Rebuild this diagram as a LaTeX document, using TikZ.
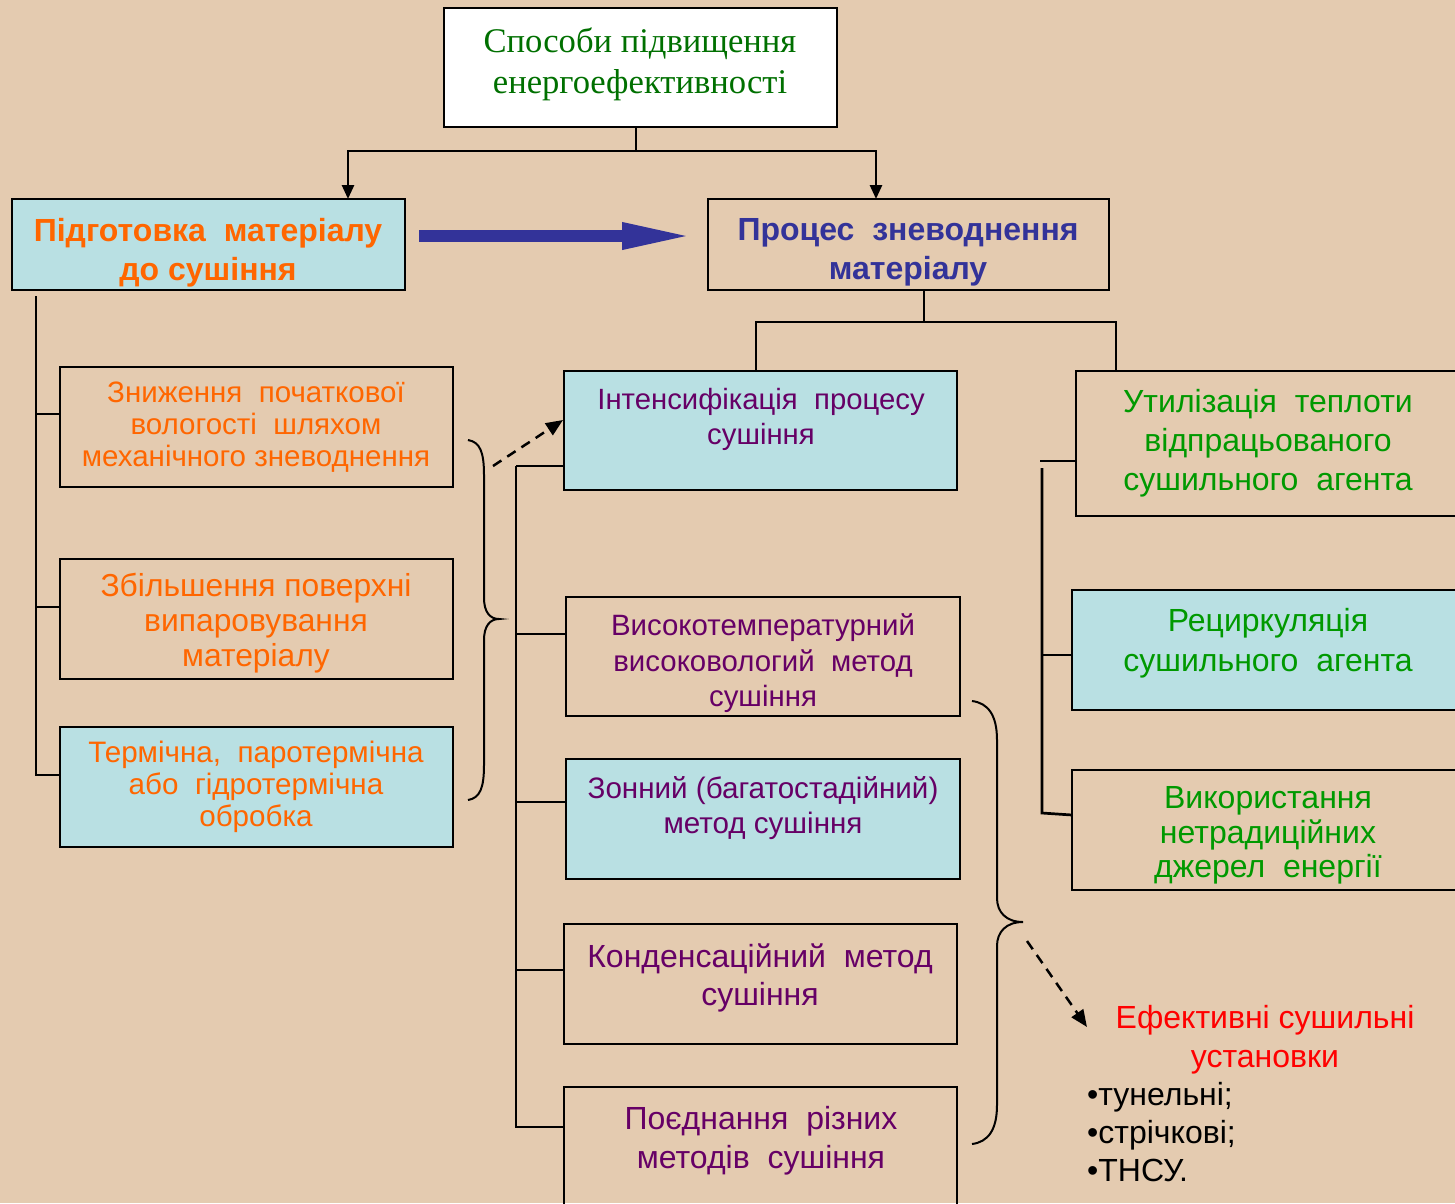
\documentclass[tikz,border=0pt]{standalone}
\usepackage{fontspec}
\setmainfont{Liberation Sans}
\newfontfamily\serifcyr{Liberation Serif}
\usetikzlibrary{arrows.meta,calc}
\definecolor{bg}{RGB}{228,203,176}
\definecolor{lblue}{RGB}{185,224,227}
\definecolor{orng}{RGB}{255,102,0}
\definecolor{purp}{RGB}{102,0,102}
\definecolor{grn}{RGB}{0,153,0}
\definecolor{dgrn}{RGB}{0,112,0}
\definecolor{navy}{RGB}{51,51,153}
\newcommand\fsz[2]{\fontsize{#1}{#2}\selectfont}
\begin{document}
\begin{tikzpicture}[x=1pt,y=-1pt,
  box/.style={draw=black, line width=2.5pt, inner sep=0pt, outer sep=0pt},
  conn/.style={draw=black, line width=2.7pt},
  txt/.style={align=center, inner sep=0pt},
  brace/.style={draw=black, line width=2pt},
  darr/.style={draw=black, line width=2.5pt, dash pattern=on 10pt off 7pt, -{Triangle[length=17pt,width=14pt]}},
  tarr/.style={-{Triangle[length=14pt,width=12pt]}}]
\useasboundingbox (0,0) rectangle (1455,1203);
\clip (0,0) rectangle (1455,1203);
\fill[bg] (0,0) rectangle (1455,1203);

% boxes
\node[box, fill=white, minimum width=393, minimum height=119] (top) at (640.5,67.5) {};
\node[box, fill=lblue, minimum width=393, minimum height=91] (prep) at (208.5,244.5) {};
\node[box, minimum width=401, minimum height=91] (proc) at (908.5,244.5) {};
\node[box, minimum width=393, minimum height=120] (b1) at (256.5,427) {};
\node[box, minimum width=393, minimum height=120] (b2) at (256.5,619) {};
\node[box, fill=lblue, minimum width=393, minimum height=120] (b3) at (256.5,787) {};
\node[box, fill=lblue, minimum width=393, minimum height=119] (m1) at (760.5,430.5) {};
\node[box, minimum width=394, minimum height=119] (m2) at (763,656.5) {};
\node[box, fill=lblue, minimum width=394, minimum height=120] (m3) at (763,819) {};
\node[box, minimum width=393, minimum height=120] (m4) at (760.5,984) {};
\node[box, minimum width=393, minimum height=128] (m5) at (760.5,1151) {};
\node[box, minimum width=394, minimum height=145] (r1) at (1273,443.5) {};
\node[box, fill=lblue, minimum width=398, minimum height=120] (r2) at (1271,650) {};
\node[box, minimum width=398, minimum height=120] (r3) at (1271,830) {};

% texts
\node[txt, text=dgrn, font=\serifcyr\fsz{34.6}{41}] (ttop) at (640,64) {Способи підвищення\\енергоефективності};
\node[txt, text=orng, font=\bfseries\fsz{32}{39}] (tprep) at (208,252.5) {Підготовка~ матеріалу\\до сушіння};
\node[txt, text=navy, font=\bfseries\fsz{32}{39}] (tproc) at (908,252.5) {Процес~ зневоднення\\матеріалу};
\node[txt, text=orng, font=\fsz{29.5}{32}] (tb1) at (256,427) {Зниження~ початкової\\вологості~ шляхом\\механічного зневоднення};
\node[txt, text=orng, font=\fsz{31.8}{35}] (tb2) at (256,623.5) {Збільшення поверхні\\випаровування\\матеріалу};
\node[txt, text=orng, font=\fsz{29.6}{32}] (tb3) at (256,787) {Термічна,~ паротермічна\\або~ гідротермічна\\обробка};
\node[txt, text=purp, font=\fsz{29.3}{35}] (tm1) at (761,419.5) {Інтенсифікація~ процесу\\сушіння};
\node[txt, text=purp, font=\fsz{29.4}{35.5}] (tm2) at (763,663.5) {Високотемпературний\\високовологий~ метод\\сушіння};
\node[txt, text=purp, font=\fsz{29.6}{35}] (tm3) at (763,808.5) {Зонний (багатостадійний)\\метод сушіння};
\node[txt, text=purp, font=\fsz{32}{38}] (tm4) at (760,978) {Конденсаційний~ метод\\сушіння};
\node[txt, text=purp, font=\fsz{32}{39}] (tm5) at (761,1140.5) {Поєднання~ різних\\методів~ сушіння};
\node[txt, text=grn, font=\fsz{32}{39}] (tr1) at (1268,443) {Утилізація~ теплоти\\відпрацьованого\\сушильного~ агента};
\node[txt, text=grn, font=\fsz{32}{40}] (tr2) at (1268,643) {Рециркуляція\\сушильного~ агента};
\node[txt, text=grn, font=\fsz{32}{34.5}] (tr3) at (1268,835.5) {Використання\\нетрадиційних\\джерел~ енергії};
\node[txt, text=red, font=\fsz{32}{39}] (tred) at (1265,1039.5) {Ефективні сушильні\\установки};
\node[txt, align=left, anchor=west, text=black, font=\fsz{32}{38}] (tlist) at (1087,1132) {•тунельні;\\•стрічкові;\\•ТНСУ.};

% top connectors
\coordinate (j1) at (636,151);
\draw[conn] (top.south -| j1) -- (j1);
\draw[conn, tarr] (j1) -| ([xshift=139.5pt]prep.north);
\draw[conn, tarr] (j1) -| ([xshift=-32.5pt]proc.north);

% big blue arrow
\draw[navy, line width=12pt, -{Triangle[length=73pt,width=24pt]}] ([shift={(14,-8.5)}]prep.east) -- ([shift={(-13,-8.5)}]proc.west);

% process -> two branches
\coordinate (j2) at (924,322);
\draw[conn] (proc.south -| j2) -- (j2);
\draw[conn] (m1.north -| 756,0) |- (j2) -| (r1.north -| 1116,0);

% left column
\coordinate (lt) at (36,296);
\draw[conn] (lt) |- ([yshift=12pt]b3.west);
\draw[conn] (lt |- b1.west) ++(0,-13) -- ([yshift=13pt]b1.west);
\draw[conn] (lt |- b2.west) ++(0,-12) -- ([yshift=12pt]b2.west);

% middle column
\coordinate (mt) at (516,466);
\draw[conn] (mt) -- (m1.west |- mt);
\draw[conn] (mt) -- (516,1127) -- (m5.west |- 0,1127);
\draw[conn] (516,634) -- (m2.west |- 0,634);
\draw[conn] (516,802) -- (m3.west |- 0,802);
\draw[conn] (516,970) -- (m4.west |- 0,970);

% right column
\draw[conn] (1040,461) -- (r1.west |- 0,461);
\draw[conn] (1042,468) -- (1042,813) -- (r3.west |- 0,815);
\draw[conn] (1042,655) -- (r2.west |- 0,655);

% brace 1
\draw[brace] (468,440) .. controls (480,442) and (484,452) .. (484,475) -- (484,598)
  .. controls (484,612) and (490,619) .. (499,619)
  .. controls (490,619) and (484,626) .. (484,640) -- (484,765)
  .. controls (484,788) and (480,798) .. (468,800);
\coordinate (d1s) at (493,466);
\draw[darr] (d1s) -- ([shift={(-1,-10.5)}]m1.west);

% brace 2
\draw[brace] (972,701) .. controls (988,703) and (997,715) .. (997,740) -- (997,898)
  .. controls (997,912) and (1006,922) .. (1023,922)
  .. controls (1006,922) and (997,932) .. (997,946) -- (997,1105)
  .. controls (997,1130) and (988,1142) .. (972,1144);
\coordinate (d2s) at (1027,941);
\coordinate (d2e) at (1087,1027);
\draw[darr] (d2s) -- (d2e);
\end{tikzpicture}
\end{document}
